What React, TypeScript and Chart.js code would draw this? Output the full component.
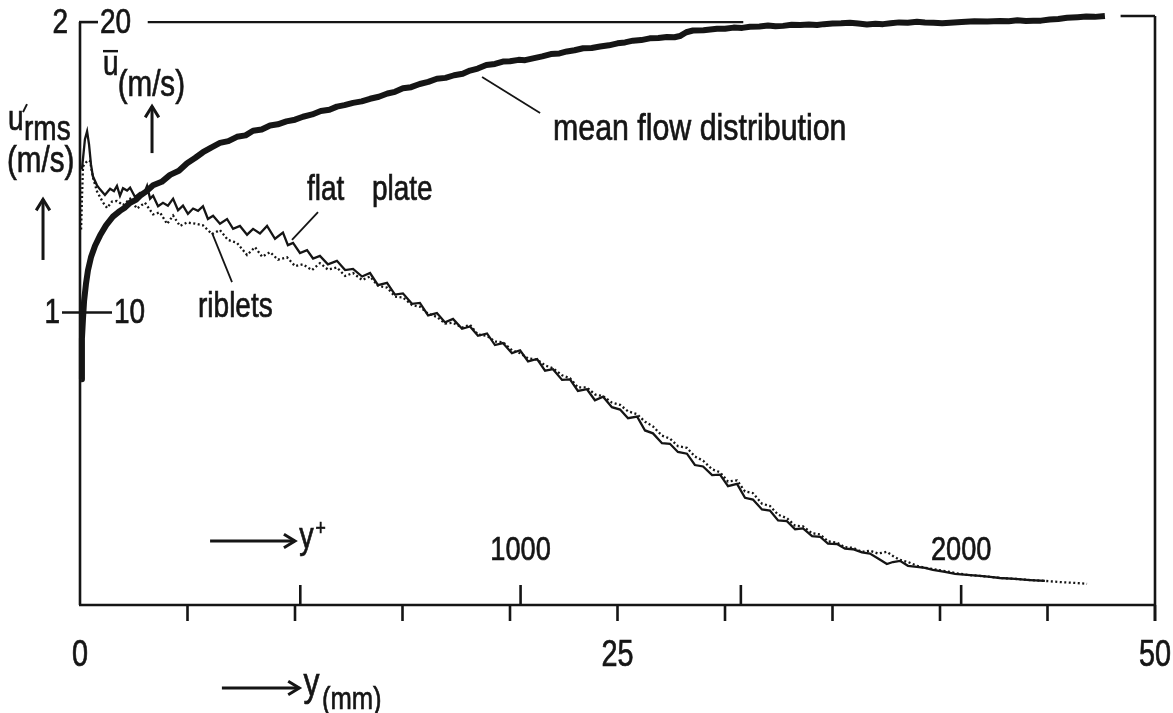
import React, { useEffect, useRef } from "react";
import { Chart, registerables } from "chart.js";

Chart.register(...registerables);

// ---------- data: [distance from wall y (mm), velocity (m/s)] ----------
const meanFlow: [number, number][] = [
  [0.05, 7.7], [0.09, 9.1], [0.14, 9.8], [0.19, 10.4], [0.28, 11.0], [0.37, 11.45], [0.51, 11.9], [0.7, 12.3],
  [0.93, 12.65], [1.21, 13.0], [1.53, 13.3], [1.86, 13.5], [2.1, 13.62], [2.33, 13.78], [2.6, 13.88], [2.79, 14.02],
  [3.1, 14.18], [3.4, 14.38], [3.8, 14.5], [4.19, 14.74], [4.6, 14.88], [4.98, 15.14], [5.35, 15.32], [5.72, 15.52],
  [6.1, 15.68], [6.51, 15.84], [6.9, 15.9], [7.3, 16.05], [7.7, 16.1], [8.05, 16.26], [8.45, 16.3], [8.84, 16.44],
  [9.2, 16.48], [9.6, 16.58], [10.0, 16.64], [10.37, 16.74], [10.8, 16.82], [11.2, 16.94], [11.6, 16.98], [11.95, 17.09],
  [12.3, 17.14], [12.7, 17.22], [13.1, 17.27], [13.49, 17.36], [13.9, 17.43], [14.3, 17.54], [14.65, 17.6], [15.02, 17.72],
  [15.4, 17.76], [15.8, 17.87], [16.2, 17.94], [16.6, 18.05], [17.0, 18.08], [17.4, 18.17], [17.8, 18.22], [18.14, 18.33],
  [18.5, 18.4], [18.9, 18.52], [19.3, 18.56], [19.67, 18.64], [20.0, 18.65], [20.4, 18.7], [20.7, 18.69], [21.07, 18.75],
  [21.5, 18.82], [21.9, 18.9], [22.3, 18.92], [22.65, 18.99], [23.0, 19.03], [23.4, 19.1], [23.8, 19.11], [24.19, 19.16],
  [24.6, 19.2], [25.0, 19.27], [25.35, 19.3], [25.72, 19.36], [26.1, 19.38], [26.5, 19.44], [26.9, 19.45], [27.3, 19.49],
  [27.65, 19.48], [27.9, 19.52], [28.2, 19.65], [28.51, 19.71], [29.0, 19.72], [29.63, 19.77], [30.0, 19.77], [30.4, 19.81],
  [30.8, 19.8], [31.16, 19.84], [31.6, 19.85], [32.0, 19.88], [32.35, 19.86], [32.7, 19.87], [33.1, 19.91], [33.5, 19.9],
  [33.9, 19.92], [34.28, 19.9], [34.6, 19.93], [35.0, 19.95], [35.4, 19.96], [35.81, 19.98], [36.2, 19.95], [36.6, 19.92],
  [37.0, 19.94], [37.35, 19.93], [37.7, 19.96], [38.1, 19.99], [38.5, 19.98], [38.93, 20.01], [39.3, 19.99], [39.7, 19.98],
  [40.1, 19.96], [40.47, 19.98], [41.0, 20.0], [41.6, 20.03], [42.2, 20.02], [42.79, 20.04], [43.2, 20.03], [43.6, 20.06],
  [44.0, 20.04], [44.33, 20.05], [44.7, 20.05], [45.1, 20.09], [45.5, 20.11], [45.91, 20.15], [46.4, 20.17], [46.8, 20.19],
  [47.2, 20.18], [47.67, 20.21],
];

// [y (mm), u'rms (m/s)]
const flatPlate: [number, number][] = [
  [0.09, 1.493], [0.23, 1.597], [0.33, 1.624], [0.42, 1.579], [0.51, 1.51], [0.6, 1.469], [0.79, 1.438], [0.93, 1.424],
  [1.16, 1.405], [1.4, 1.426], [1.58, 1.418], [1.72, 1.436], [1.86, 1.402], [2.0, 1.428], [2.19, 1.42], [2.33, 1.43],
  [2.56, 1.398], [2.79, 1.412], [2.98, 1.41], [3.12, 1.436], [3.26, 1.392], [3.4, 1.402], [3.63, 1.366], [3.86, 1.378],
  [4.09, 1.368], [4.33, 1.392], [4.56, 1.352], [4.79, 1.368], [5.02, 1.34], [5.26, 1.358], [5.49, 1.35], [5.72, 1.366],
  [5.95, 1.322], [6.19, 1.333], [6.51, 1.306], [6.84, 1.322], [7.12, 1.288], [7.44, 1.298], [7.77, 1.268], [8.05, 1.288],
  [8.37, 1.272], [8.7, 1.298], [9.07, 1.254], [9.44, 1.275], [9.67, 1.232], [9.91, 1.24], [10.23, 1.205], [10.56, 1.215],
  [10.84, 1.186], [11.16, 1.195], [11.53, 1.166], [11.95, 1.178], [12.33, 1.146], [12.7, 1.15], [13.12, 1.124], [13.49, 1.136],
  [13.86, 1.094], [14.28, 1.102], [14.65, 1.062], [15.02, 1.066], [15.44, 1.03], [15.81, 1.033], [16.19, 0.99], [16.6, 0.998],
  [16.98, 0.966], [17.35, 0.978], [17.77, 0.944], [18.14, 0.952], [18.51, 0.92], [18.93, 0.928], [19.3, 0.888], [19.67, 0.895],
  [20.09, 0.86], [20.47, 0.87], [20.84, 0.832], [21.26, 0.84], [21.63, 0.8], [22.0, 0.805], [22.42, 0.768], [22.79, 0.77],
  [23.16, 0.73], [23.58, 0.736], [23.95, 0.698], [24.33, 0.71], [24.74, 0.674], [25.12, 0.666], [25.49, 0.636], [25.91, 0.642],
  [26.28, 0.594], [26.65, 0.584], [27.07, 0.55], [27.44, 0.548], [27.81, 0.52], [28.23, 0.514], [28.6, 0.475], [28.98, 0.47],
  [29.4, 0.44], [29.77, 0.442], [30.14, 0.402], [30.56, 0.41], [30.93, 0.362], [31.3, 0.356], [31.72, 0.322], [32.09, 0.318],
  [32.47, 0.284], [32.88, 0.282], [33.26, 0.254], [33.63, 0.257], [34.05, 0.23], [34.42, 0.228], [34.79, 0.204], [35.21, 0.203],
  [35.58, 0.187], [35.95, 0.185], [36.37, 0.174], [36.74, 0.17], [37.12, 0.153], [37.53, 0.134], [37.81, 0.141], [38.14, 0.145],
  [38.51, 0.128], [38.93, 0.124], [39.3, 0.121], [39.67, 0.114], [40.23, 0.107], [40.7, 0.1], [41.26, 0.097], [41.86, 0.093],
  [42.33, 0.09], [42.79, 0.086], [43.49, 0.083], [44.19, 0.079], [44.88, 0.076],
];

const riblets: [number, number][] = [
  [0.05, 1.286], [0.09, 1.39], [0.14, 1.503], [0.28, 1.517], [0.37, 1.524], [0.47, 1.521], [0.6, 1.466], [0.79, 1.417],
  [1.07, 1.379], [1.26, 1.36], [1.49, 1.382], [1.72, 1.384], [2.0, 1.37], [2.33, 1.392], [2.65, 1.358], [3.02, 1.378],
  [3.4, 1.338], [3.72, 1.345], [4.05, 1.305], [4.33, 1.334], [4.65, 1.298], [4.98, 1.31], [5.35, 1.306], [5.72, 1.3],
  [6.14, 1.27], [6.51, 1.284], [6.88, 1.25], [7.3, 1.24], [7.77, 1.198], [8.14, 1.225], [8.47, 1.192], [8.84, 1.208],
  [9.21, 1.182], [9.63, 1.19], [10.0, 1.16], [10.37, 1.166], [10.79, 1.146], [11.16, 1.17], [11.53, 1.148], [11.95, 1.155],
  [12.33, 1.126], [12.7, 1.136], [13.12, 1.112], [13.49, 1.124], [13.86, 1.092], [14.28, 1.086], [14.65, 1.055], [15.02, 1.052],
  [15.44, 1.026], [15.81, 1.02], [16.19, 0.996], [16.6, 0.985], [16.98, 0.962], [17.35, 0.965], [17.77, 0.948], [18.14, 0.958],
  [18.51, 0.924], [18.93, 0.92], [19.3, 0.9], [19.67, 0.898], [20.09, 0.87], [20.47, 0.86], [20.84, 0.842], [21.26, 0.838],
  [21.63, 0.818], [22.0, 0.808], [22.42, 0.784], [22.79, 0.774], [23.16, 0.742], [23.58, 0.742], [23.95, 0.718], [24.33, 0.712],
  [24.74, 0.69], [25.12, 0.682], [25.49, 0.66], [25.91, 0.65], [26.28, 0.624], [26.65, 0.608], [27.07, 0.576], [27.44, 0.566],
  [27.81, 0.54], [28.23, 0.534], [28.6, 0.504], [28.98, 0.49], [29.4, 0.46], [29.77, 0.45], [30.14, 0.418], [30.56, 0.422],
  [30.93, 0.384], [31.3, 0.378], [31.72, 0.342], [32.09, 0.334], [32.47, 0.304], [32.88, 0.292], [33.26, 0.266], [33.63, 0.264],
  [34.05, 0.24], [34.42, 0.236], [34.79, 0.212], [35.21, 0.208], [35.58, 0.192], [35.95, 0.19], [36.37, 0.176], [36.74, 0.18],
  [37.12, 0.17], [37.53, 0.176], [37.81, 0.162], [38.14, 0.148], [38.51, 0.141], [38.93, 0.128], [39.3, 0.121], [39.67, 0.117],
  [40.23, 0.11], [40.7, 0.103], [41.26, 0.097], [41.86, 0.093], [42.33, 0.09], [42.79, 0.086], [43.49, 0.083], [44.19, 0.079],
  [44.88, 0.076], [45.58, 0.072], [46.28, 0.069], [46.84, 0.066],
];

// ---------- ticks / labels ----------
const xLabelTicks = [0, 25, 50];
const xDownTicks = [5, 10, 15, 20, 25, 30, 35, 40, 45, 50];
const yPlusTicks = [500, 1000, 1500, 2000];
const yPlusLabels = [1000, 2000];
const yPlusPerMm = 48.8;
const rmsTicks = [1, 2];
const meanTicks = [10, 20];

const INK = "#151515";
const FONT = "'Liberation Sans', Arimo, Arial, 'DejaVu Sans', sans-serif";
const SX = 0.8; // condensed lettering

function toPts(rows: [number, number][]) {
  return rows.map(([x, y]) => ({ x, y }));
}

const figurePlugin = {
  id: "figure",
  afterDraw(chart: any) {
    const ctx: CanvasRenderingContext2D = chart.ctx;
    const xs = chart.scales.x;
    const yr = chart.scales.yR;
    const ca = chart.chartArea;
    const X = (v: number) => xs.getPixelForValue(v);
    const Y = (v: number) => yr.getPixelForValue(v);
    ctx.save();
    ctx.strokeStyle = INK;
    ctx.fillStyle = INK;
    ctx.lineCap = "butt";
    const line = (x1: number, y1: number, x2: number, y2: number, w = 2.6) => {
      ctx.lineWidth = w;
      ctx.beginPath();
      ctx.moveTo(x1, y1);
      ctx.lineTo(x2, y2);
      ctx.stroke();
    };
    const arrow = (x1: number, y1: number, x2: number, y2: number) => {
      line(x1, y1, x2, y2, 3);
      const a = Math.atan2(y2 - y1, x2 - x1);
      const L = 13, H = 0.55;
      ctx.lineWidth = 3;
      ctx.beginPath();
      ctx.moveTo(x2 - L * Math.cos(a - H), y2 - L * Math.sin(a - H));
      ctx.lineTo(x2, y2);
      ctx.lineTo(x2 - L * Math.cos(a + H), y2 - L * Math.sin(a + H));
      ctx.stroke();
    };
    const text = (
      s: string, x: number, y: number, align: CanvasTextAlign = "left", size = 35,
      base: CanvasTextBaseline = "alphabetic", sx = SX,
    ) => {
      ctx.save();
      ctx.font = `${size}px ${FONT}`;
      ctx.textAlign = align;
      ctx.textBaseline = base;
      ctx.translate(x, y);
      ctx.scale(sx, 1);
      ctx.fillText(s, 0, 0);
      ctx.lineWidth = 0.7;
      ctx.strokeText(s, 0, 0);
      ctx.restore();
    };

    // frame
    line(ca.left, Y(rmsTicks[1]), ca.left, ca.bottom);
    line(ca.left - 1, ca.bottom, ca.right, ca.bottom);
    line(ca.right, ca.top, ca.right, ca.bottom + 16);
    line(X(48.4), ca.top, ca.right, ca.top);
    // top-left tick and 20 reference line
    line(ca.left - 1, Y(rmsTicks[1]), ca.left + 18, Y(rmsTicks[1]));
    line(X(3.15), Y(rmsTicks[1]), X(30.85), Y(rmsTicks[1]), 2.2);
    // 1 - 10 crossbar
    line(ca.left - 18, Y(rmsTicks[0]), ca.left + 32, Y(rmsTicks[0]));

    // left tick labels
    text(String(rmsTicks[1]), ca.left - 12, Y(rmsTicks[1]) + 1, "right", 35, "middle");
    text(String(meanTicks[1]), ca.left + 20, Y(rmsTicks[1]) + 1, "left", 35, "middle");
    text(String(rmsTicks[0]), ca.left - 20, Y(rmsTicks[0]) + 1, "right", 35, "middle");
    text(String(meanTicks[0]), ca.left + 34, Y(rmsTicks[0]) + 1, "left", 35, "middle");

    // x ticks
    xDownTicks.forEach((v) => line(X(v), ca.bottom, X(v), ca.bottom + 16));
    yPlusTicks.forEach((v) => line(X(v / yPlusPerMm), ca.bottom, X(v / yPlusPerMm), ca.bottom - 20));
    xLabelTicks.forEach((v) => text(String(v), X(v), ca.bottom + 51, "center", 36, "middle"));
    yPlusLabels.forEach((v) => text(String(v), X(v / yPlusPerMm), ca.bottom - 54, "center", 34, "middle"));

    // y+ caption
    arrow(X(6.05), ca.bottom - 64, X(10.0), ca.bottom - 64);
    text("y", X(10.2), ca.bottom - 57, "left", 36);
    text("+", X(10.95), ca.bottom - 70, "left", 22);

    // y (mm) caption
    arrow(X(6.6), ca.bottom + 83, X(10.2), ca.bottom + 83);
    text("y", X(10.4), ca.bottom + 91, "left", 40);
    text("(mm)", X(11.25), ca.bottom + 104, "left", 32);

    // u'rms caption
    const uBase = Y(1.628);
    text("u", ca.left - 72, uBase, "left", 35);
    line(ca.left - 53, uBase - 26, ca.left - 57, uBase - 18, 2);
    text("rms", ca.left - 56, Y(1.594), "left", 35);
    text("(m/s)", ca.left - 73, Y(1.484), "left", 37);
    arrow(X(-1.72), Y(1.181), X(-1.72), Y(1.39));

    // u-bar caption
    text("u", X(1.07), Y(1.818), "left", 35);
    line(X(1.07), Y(1.9), X(1.07) + 15, Y(1.9), 2.4);
    text("(m/s)", X(1.75), Y(1.747), "left", 37);
    arrow(X(3.35), Y(1.549), X(3.35), Y(1.71));

    // curve annotations
    text("mean flow distribution", X(22.0), Y(1.594), "left", 37, "alphabetic", 0.82);
    line(X(18.7), Y(1.811), X(21.4), Y(1.687), 1.8);
    text("flat", X(10.56), Y(1.387), "left", 35);
    text("plate", X(13.58), Y(1.387), "left", 35);
    line(X(11.07), Y(1.346), X(9.86), Y(1.25), 1.8);
    text("riblets", X(5.49), Y(0.985), "left", 35);
    line(X(7.07), Y(1.105), X(6.14), Y(1.274), 1.8);

    ctx.restore();
  },
};

export default function App() {
  const ref = useRef<HTMLCanvasElement | null>(null);
  useEffect(() => {
    if (!ref.current) return;
    const chart = new Chart(ref.current, {
      type: "line",
      data: {
        datasets: [
          {
            label: "mean flow distribution",
            data: toPts(meanFlow),
            yAxisID: "yU",
            borderColor: INK,
            borderWidth: 6,
            borderJoinStyle: "round",
            pointRadius: 0,
            tension: 0,
            clip: false as any,
          },
          {
            label: "flat plate",
            data: toPts(flatPlate),
            yAxisID: "yR",
            borderColor: INK,
            borderWidth: 2.3,
            pointRadius: 0,
            tension: 0,
            clip: false as any,
          },
          {
            label: "riblets",
            data: toPts(riblets),
            yAxisID: "yR",
            borderColor: INK,
            borderWidth: 2.3,
            borderDash: [2, 2.5],
            pointRadius: 0,
            tension: 0,
            clip: false as any,
          },
        ],
      },
      options: {
        animation: false,
        responsive: false,
        devicePixelRatio: 1,
        parsing: false as any,
        layout: { padding: { left: 80, right: 18, top: 16, bottom: 108 } },
        plugins: { legend: { display: false }, tooltip: { enabled: false } },
        scales: {
          x: { type: "linear", min: 0, max: 50, display: false },
          yR: { type: "linear", min: -0.007, max: 2.021, display: false },
          yU: { type: "linear", min: -0.07, max: 20.21, display: false },
        },
      },
      plugins: [figurePlugin],
    });
    return () => chart.destroy();
  }, []);
  return (
    <div style={{ position: "fixed", left: 0, top: 0, width: 1173, height: 713, background: "#fff" }}>
      <canvas ref={ref} width={1173} height={713} style={{ width: 1173, height: 713, display: "block" }} />
    </div>
  );
}
